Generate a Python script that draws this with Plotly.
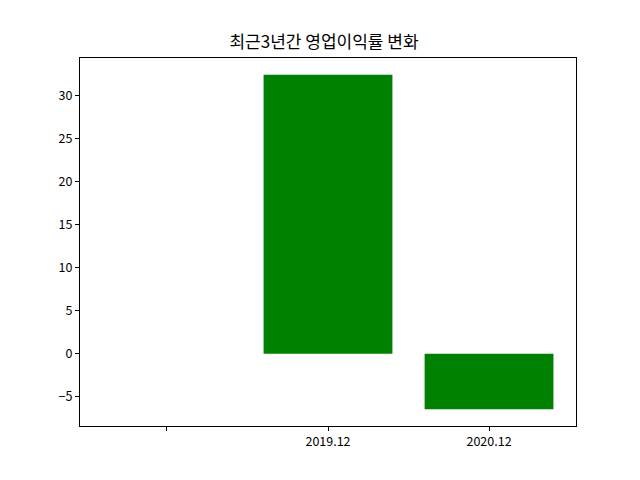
import plotly.graph_objects as go

categories = ["", "2019.12", "2020.12"]
values = [None, 32.44, -6.45]
title = "최근3년간 영업이익률 변화"

positions = list(range(len(categories)))
valid = [v for v in values if v is not None]
lo, hi = min(min(valid), 0), max(max(valid), 0)
pad = (hi - lo) * 0.05
xpad = (len(categories) - 1 + 0.8) * 0.05

fig = go.Figure(go.Bar(x=positions, y=values, width=0.8, marker_color="green",
                       marker_line_width=0))
font = "Noto Sans CJK KR, Malgun Gothic, sans-serif"
axis_common = dict(showline=True, linecolor="black", linewidth=1, mirror=True,
                   ticks="outside", ticklen=4, tickcolor="black", showgrid=False,
                   zeroline=False, tickfont=dict(family=font, size=12.5, color="black"))
W, H = 632, 472
fig.update_layout(
    width=W, height=H, plot_bgcolor="white", paper_bgcolor="white",
    margin=dict(l=72, r=64, t=50, b=54),
    title=dict(text=title, x=0.5, xanchor="center", y=1 - 34 / H, yanchor="middle",
               font=dict(family=font, size=17, color="black")),
    xaxis=dict(tickmode="array", tickvals=positions, ticktext=categories,
               range=[-0.4 - xpad, len(categories) - 1 + 0.4 + xpad], **axis_common),
    yaxis=dict(range=[lo - pad, hi + pad], dtick=5, **axis_common),
    showlegend=False,
)
fig.write_html("out.html")
